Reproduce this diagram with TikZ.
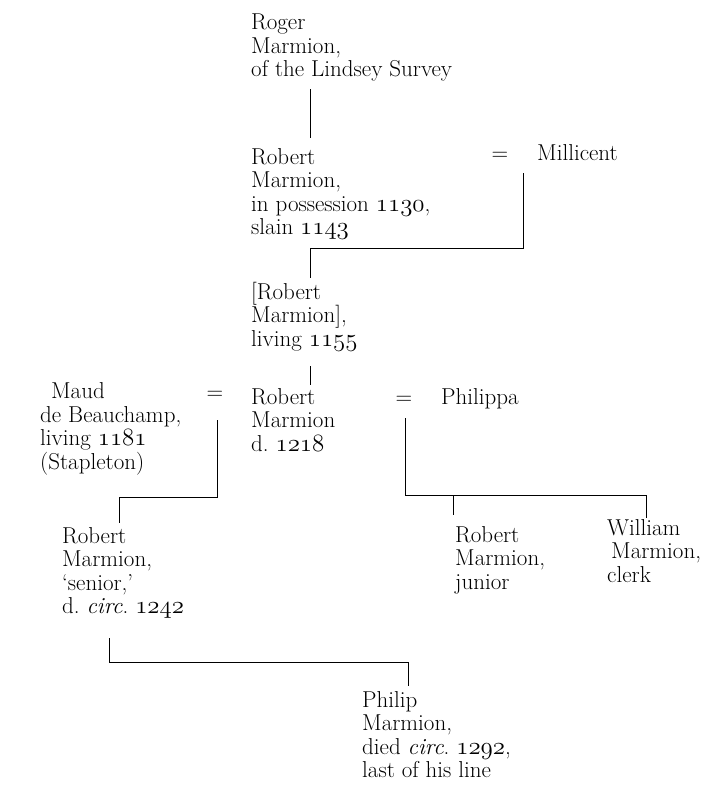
\documentclass[tikz,border=0pt]{standalone}
\usepackage{fontspec}
\newcommand\osn[1]{{\usefont{OML}{lmm}{m}{it}#1}}
\begin{document}
\begin{tikzpicture}[x=1pt,y=-1pt,
  person/.style={anchor=base west, inner sep=0pt, align=left, font=\fontsize{23}{23.5}\selectfont\frenchspacing},
  marr/.style={anchor=base, inner sep=0pt, font=\fontsize{23}{23.5}\selectfont},
  line/.style={draw=black, line width=0.8pt}]
\useasboundingbox[fill=white] (0,0) rectangle (726,788);

% people (anchor = baseline of the last line)
\node[person] (roger) at (251,76.5) {Roger\\Marmion,\\of the Lindsey Survey};
\node[person] (robA) at (251,234.5) {Robert\\Marmion,\\in possession \osn{1130},\\slain \osn{1143}};
\node[marr] (eqA) at (500,160) {=};
\node[person] (millicent) at (537,160) {Millicent};
\node[person] (robB) at (251,346) {[Robert\\Marmion],\\living \osn{1155}};
\node[person] (robC) at (251,451) {Robert\\Marmion\\d. \osn{1218}};
\node[person] (maud) at (40,469) {\hspace*{11pt}Maud\\de Beauchamp,\\living \osn{1181}\\(Stapleton)};
\node[marr] (eqB) at (215,399) {=};
\node[marr] (eqC) at (404,404) {=};
\node[person] (philippa) at (441,404) {Philippa};
\node[person] (robD) at (62,613.5) {Robert\\Marmion,\\‘senior,’\\d. \textit{circ}. \osn{1242}};
\node[person] (robE) at (455,589) {Robert\\Marmion,\\junior};
\node[person] (william) at (607,582) {William\\\hspace*{4pt}Marmion,\\clerk};
\node[person] (philip) at (362,777.5) {Philip\\Marmion,\\died \textit{circ}. \osn{1292},\\last of his line};

% junction points
\coordinate (rogerB) at (310,89);
\coordinate (robAT) at (310,138);
\coordinate (milB) at (523,173);
\coordinate (milJ) at (523,248);
\coordinate (robAJ) at (310,248);
\coordinate (robBT) at (310,278);
\coordinate (robBB) at (310,366);
\coordinate (robCT) at (310,385);
\coordinate (maudB) at (217,420);
\coordinate (maudJ) at (217,497);
\coordinate (robDJ) at (119,497);
\coordinate (robDT) at (119,523);
\coordinate (phiB) at (405,418);
\coordinate (phiJ) at (405,495);
\coordinate (robEJ) at (453,495);
\coordinate (robET) at (453,515);
\coordinate (wilJ) at (646,495);
\coordinate (wilT) at (646,518);
\coordinate (robDB) at (109,638);
\coordinate (robDJ2) at (109,662);
\coordinate (philJ) at (408,662);
\coordinate (philT) at (408,686);

% connectors
\draw[line] (rogerB) -- (robAT);
\draw[line] (milB) -- (milJ) -- (robAJ) -- (robBT);
\draw[line] (robBB) -- (robCT);
\draw[line] (maudB) -- (maudJ) -- (robDJ) -- (robDT);
\draw[line] (phiB) -- (phiJ) -- (wilJ) -- (wilT);
\draw[line] (robEJ) -- (robET);
\draw[line] (robDB) -- (robDJ2) -- (philJ) -- (philT);
\end{tikzpicture}
\end{document}
